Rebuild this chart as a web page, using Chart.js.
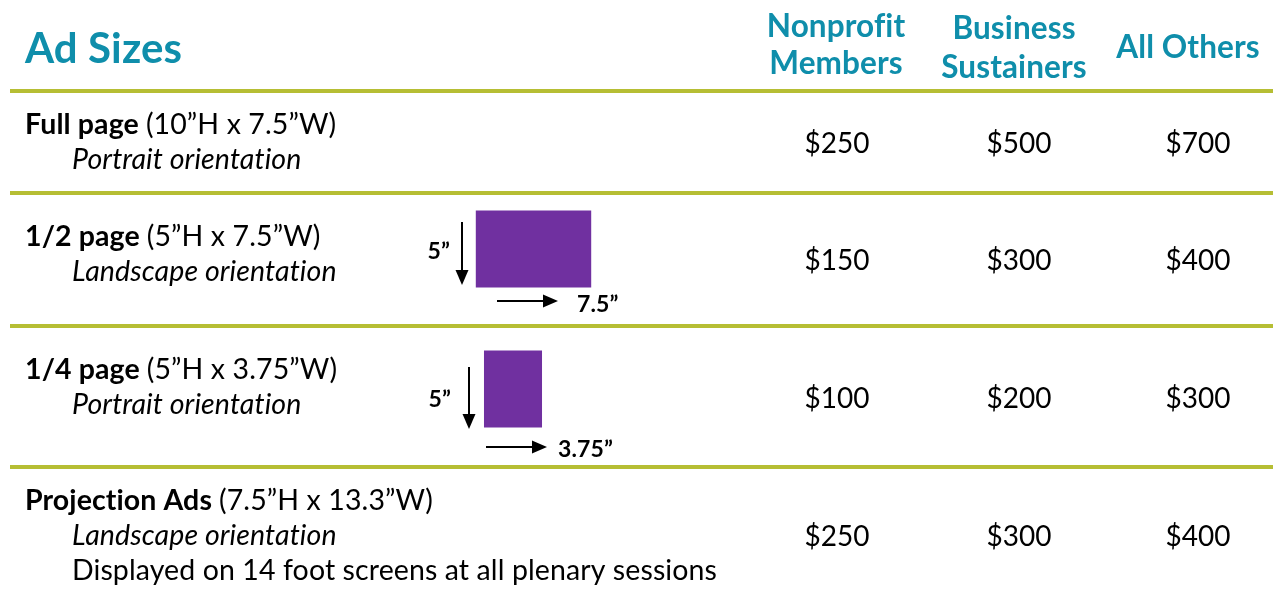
<!DOCTYPE html>
<html>
<head>
<meta charset="utf-8">
<script src="https://cdn.jsdelivr.net/npm/chart.js@4.4.1/dist/chart.umd.min.js"></script>
<style>
  html, body { margin: 0; padding: 0; background: #fff; }
  canvas { display: block; }
</style>
</head>
<body>
<canvas id="adChart" width="1273" height="595"></canvas>
<script>
// Table data
const title = 'Ad Sizes';
const adNames = ['Full page', '1/2 page', '1/4 page', 'Projection Ads'];
const adDimensions = ['(10”H x 7.5”W)', '(5”H x 7.5”W)', '(5”H x 3.75”W)', '(7.5”H x 13.3”W)'];
const adNotes = [
    ['Portrait orientation'],
    ['Landscape orientation'],
    ['Portrait orientation'],
    ['Landscape orientation', 'Displayed on 14 foot screens at all plenary sessions']
];
const columns = [['Nonprofit', 'Members'], ['Business', 'Sustainers'], ['All Others']];
const nonprofitPrices = [250, 150, 100, 250];
const businessPrices = [500, 300, 200, 300];
const otherPrices = [700, 400, 300, 400];
// sample shapes in inches (only the 1/2 and 1/4 page rows show one)
const shapeHeights = [null, 5, 5, null];
const shapeWidths = [null, 7.5, 3.75, null];

// Layout (pixels)
const W = 1273, H = 595;
const colX = [837, 1019, 1198];
const priceBaseline = [153, 270, 408, 546];
const rowBaseline = [134, 246, 379, 510];
const lineGap = 35;
const ruleY = [91, 193, 326, 467];
const pxPerInch = 15.3;
const shapeCenter = [null, [533.5, 249], [513, 389], null];
const arrowLayout = [
    null,
    { down: [462, 222, 285], right: [497, 558, 301], hLabel: [450, 252], wLabel: [577, 312] },
    { down: [469, 367, 429], right: [486, 547, 447], hLabel: [451, 400], wLabel: [558, 457] },
    null
];

const TEAL = '#0f8eab';
const OLIVE = '#b6be34';
const PURPLE = '#7030a0';
const FONT = 'Lato, "Open Sans", sans-serif';

const priceSets = [nonprofitPrices, businessPrices, otherPrices];

// price cells: invisible points, text drawn at their position
const datasets = priceSets.map((prices, c) => ({
    type: 'scatter',
    label: columns[c].join(' '),
    data: prices.map((p, r) => ({ x: colX[c], y: priceBaseline[r] })),
    pointRadius: 0,
    pointHoverRadius: 0
}));

// sample ad shapes as floating bars
shapeWidths.forEach((w, r) => {
    if (!w) return;
    const [cx, cy] = shapeCenter[r];
    const half = shapeHeights[r] * pxPerInch / 2;
    datasets.push({
        type: 'bar',
        label: adNames[r],
        data: [{ x: cx, y: [cy - half, cy + half] }],
        backgroundColor: PURPLE,
        borderWidth: 0,
        barThickness: w * pxPerInch,
        grouped: false
    });
});

function drawArrow(ctx, x1, y1, x2, y2) {
    const ang = Math.atan2(y2 - y1, x2 - x1);
    const head = 15, hw = 6.5;
    const bx = x2 - head * Math.cos(ang), by = y2 - head * Math.sin(ang);
    ctx.strokeStyle = '#000';
    ctx.lineWidth = 2;
    ctx.beginPath();
    ctx.moveTo(x1, y1);
    ctx.lineTo(bx, by);
    ctx.stroke();
    ctx.fillStyle = '#000';
    ctx.beginPath();
    ctx.moveTo(x2, y2);
    ctx.lineTo(bx - hw * Math.sin(ang), by + hw * Math.cos(ang));
    ctx.lineTo(bx + hw * Math.sin(ang), by - hw * Math.cos(ang));
    ctx.closePath();
    ctx.fill();
}

const tablePlugin = {
    id: 'adTable',
    beforeDatasetsDraw(chart) {
        const ctx = chart.ctx;
        ctx.save();
        ctx.letterSpacing = '0.1px'; // keeps Lato from joining "ti"
        // title
        ctx.fillStyle = TEAL;
        ctx.textBaseline = 'alphabetic';
        ctx.textAlign = 'left';
        ctx.font = 'bold 42px ' + FONT;
        ctx.fillText(title, 25, 63);

        // column headers
        ctx.font = 'bold 31.5px ' + FONT;
        ctx.textAlign = 'center';
        const headBase = [[37, 74], [39, 78], [58]];
        const headX = [836, 1014, 1188];
        columns.forEach((lines, c) => {
            lines.forEach((t, i) => ctx.fillText(t, headX[c], headBase[c][i]));
        });

        // rules
        ctx.fillStyle = OLIVE;
        ruleY.forEach(y => ctx.fillRect(10, y - 2, W - 10, 4));

        // row labels
        ctx.fillStyle = '#000';
        ctx.textAlign = 'left';
        adNames.forEach((name, r) => {
            const y = rowBaseline[r];
            ctx.font = 'bold 28.5px ' + FONT;
            ctx.fillText(name, 25, y);
            const nw = ctx.measureText(name + ' ').width;
            ctx.font = '28.5px ' + FONT;
            ctx.fillText(adDimensions[r], 25 + nw, y);
            adNotes[r].forEach((note, i) => {
                ctx.font = (i === 0 ? 'italic ' : '') + '28.5px ' + FONT;
                ctx.fillText(note, 72, y + lineGap * (i + 1));
            });
        });

        // dimension arrows beside the shapes
        ctx.font = 'bold 23px ' + FONT;
        arrowLayout.forEach((a, r) => {
            if (!a) return;
            drawArrow(ctx, a.down[0], a.down[1], a.down[0], a.down[2]);
            drawArrow(ctx, a.right[0], a.right[2], a.right[1], a.right[2]);
            ctx.fillStyle = '#000';
            ctx.textAlign = 'right';
            ctx.textBaseline = 'middle';
            ctx.fillText(shapeHeights[r] + '”', a.hLabel[0], a.hLabel[1]);
            ctx.textAlign = 'left';
            ctx.textBaseline = 'alphabetic';
            ctx.fillText(shapeWidths[r] + '”', a.wLabel[0], a.wLabel[1]);
        });
        ctx.restore();
    },
    afterDatasetsDraw(chart) {
        const ctx = chart.ctx;
        ctx.save();
        ctx.fillStyle = '#000';
        ctx.font = '28px ' + FONT;
        ctx.textAlign = 'center';
        ctx.textBaseline = 'alphabetic';
        priceSets.forEach((prices, c) => {
            const meta = chart.getDatasetMeta(c);
            meta.data.forEach((pt, r) => {
                ctx.fillText('$' + prices[r], pt.x, pt.y);
            });
        });
        ctx.restore();
    }
};

new Chart(document.getElementById('adChart').getContext('2d'), {
    type: 'bar',
    data: { datasets: datasets },
    options: {
        responsive: false,
        animation: false,
        layout: { padding: 0 },
        plugins: {
            legend: { display: false },
            tooltip: { enabled: false }
        },
        scales: {
            x: { type: 'linear', min: 0, max: W, offset: false, display: false },
            y: { type: 'linear', min: 0, max: H, reverse: true, display: false }
        }
    },
    plugins: [tablePlugin]
});
</script>
</body>
</html>
